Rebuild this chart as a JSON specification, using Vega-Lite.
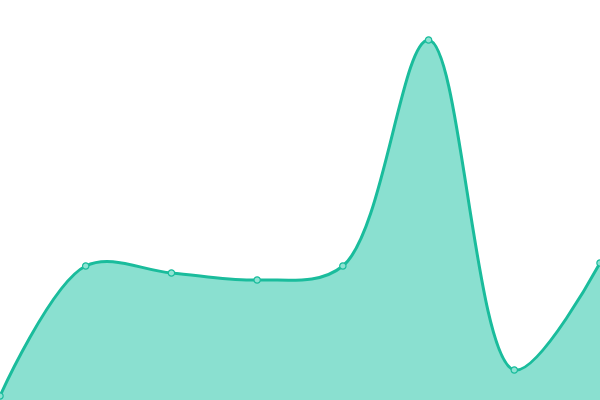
{
  "$schema": "https://vega.github.io/schema/vega-lite/v6.json",
  "width": 600,
  "height": 400,
  "padding": 0,
  "autosize": {"type": "fit", "contains": "padding"},
  "data": {
    "values": [
      {"i": 0, "v": 4},
      {"i": 1, "v": 134},
      {"i": 2, "v": 127},
      {"i": 3, "v": 120},
      {"i": 4, "v": 134},
      {"i": 5, "v": 360},
      {"i": 6, "v": 30},
      {"i": 7, "v": 137}
    ]
  },
  "encoding": {
    "x": {"field": "i", "type": "quantitative", "axis": null, "scale": {"domain": [0, 7], "nice": false, "zero": false}},
    "y": {"field": "v", "type": "quantitative", "axis": null, "scale": {"domain": [0, 400], "nice": false}}
  },
  "layer": [
    {
      "mark": {"type": "area", "interpolate": "catmull-rom", "fill": "#8ae0d0", "fillOpacity": 1, "clip": true}
    },
    {
      "mark": {"type": "line", "interpolate": "catmull-rom", "stroke": "#1abc9c", "strokeWidth": 3, "clip": true}
    },
    {
      "mark": {"type": "point", "filled": true, "fill": "#8ee3d3", "stroke": "#1abc9c", "strokeWidth": 1.2, "size": 40, "opacity": 1, "clip": true}
    }
  ],
  "config": {"view": {"stroke": null}}
}
